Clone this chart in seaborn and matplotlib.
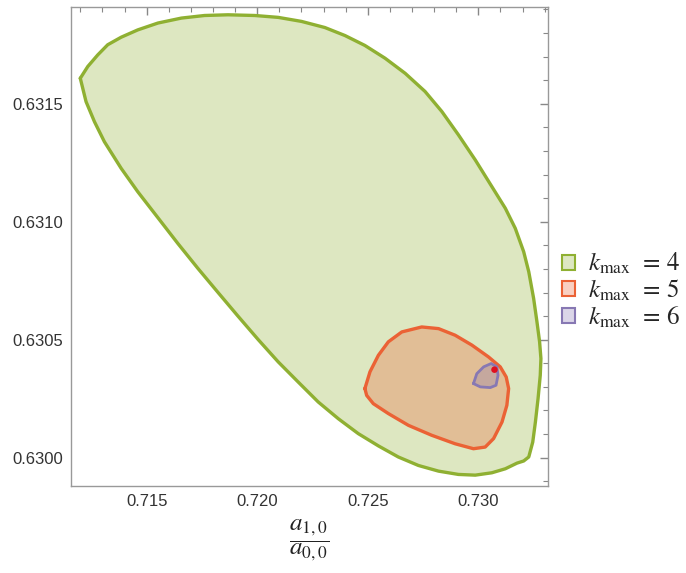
import matplotlib
matplotlib.use("Agg")
import matplotlib.pyplot as plt
import seaborn as sns
import pandas as pd
from matplotlib.ticker import MultipleLocator, FormatStrFormatter
from matplotlib.patches import Patch

# ---- data (boundaries of the allowed regions) ----
k4_x = [0.71200, 0.71234, 0.71279, 0.71324, 0.71385, 0.71460, 0.71551, 0.71657, 0.71762, 0.71868,
        0.71989, 0.72095, 0.72200, 0.72306, 0.72397, 0.72487, 0.72578, 0.72669, 0.72759, 0.72835,
        0.72910, 0.72986, 0.73061, 0.73122, 0.73167, 0.73205, 0.73228, 0.73250, 0.73265, 0.73277,
        0.73283, 0.73280, 0.73270, 0.73258, 0.73246, 0.73228, 0.73205, 0.73175, 0.73122, 0.73061,
        0.72986, 0.72910, 0.72820, 0.72729, 0.72638, 0.72548, 0.72457, 0.72367, 0.72276, 0.72185,
        0.72095, 0.72004, 0.71913, 0.71823, 0.71732, 0.71641, 0.71551, 0.71460, 0.71385, 0.71309,
        0.71264, 0.71226, 0.71211, 0.71200]
k4_y = [0.631608, 0.631658, 0.631707, 0.631750, 0.631782, 0.631813, 0.631842, 0.631863, 0.631874, 0.631877,
        0.631874, 0.631866, 0.631849, 0.631823, 0.631789, 0.631747, 0.631693, 0.631629, 0.631552, 0.631467,
        0.631368, 0.631262, 0.631149, 0.631057, 0.630972, 0.630873, 0.630788, 0.630675, 0.630576, 0.630491,
        0.630420, 0.630349, 0.630250, 0.630151, 0.630066, 0.630003, 0.629986, 0.629977, 0.629953, 0.629936,
        0.629926, 0.629929, 0.629943, 0.629967, 0.630003, 0.630050, 0.630102, 0.630165, 0.630236, 0.630321,
        0.630406, 0.630501, 0.630600, 0.630700, 0.630802, 0.630908, 0.631017, 0.631127, 0.631226, 0.631339,
        0.631424, 0.631509, 0.631566, 0.631608]

k5_x = [0.72487, 0.72510, 0.72548, 0.72593, 0.72654, 0.72744, 0.72820, 0.72895, 0.72971, 0.73046,
        0.73099, 0.73126, 0.73137, 0.73129, 0.73107, 0.73069, 0.73031, 0.72978, 0.72895, 0.72789,
        0.72684, 0.72593, 0.72525, 0.72495, 0.72487]
k5_y = [0.630293, 0.630364, 0.630434, 0.630491, 0.630533, 0.630554, 0.630547, 0.630519, 0.630477, 0.630427,
        0.630385, 0.630342, 0.630293, 0.630222, 0.630151, 0.630081, 0.630045, 0.630038, 0.630059, 0.630095,
        0.630137, 0.630187, 0.630229, 0.630264, 0.630293]

k6_x = [0.72978, 0.72993, 0.73024, 0.73058, 0.73084, 0.73089, 0.73080, 0.73054, 0.73009, 0.72978]
k6_y = [0.630314, 0.630356, 0.630385, 0.630399, 0.630385, 0.630349, 0.630307, 0.630297, 0.630300, 0.630314]

point_x = [0.73073]
point_y = [0.630373]

labels = ["4", "5", "6"]
edge_colors = ["#8FB032", "#EB6235", "#8778B3"]

# ---- figure ----
sns.set_theme(style="white")
plt.rcParams["mathtext.fontset"] = "stix"
plt.rcParams["font.family"] = ["Liberation Sans", "DejaVu Sans"]

fig = plt.figure(figsize=(6.86, 5.73), dpi=100)
ax = fig.add_axes([71 / 686, 1 - 486 / 573, (548 - 71) / 686, (486 - 7) / 573])

regions = [(k4_x, k4_y), (k5_x, k5_y), (k6_x, k6_y)]
lws = [2.4, 2.4, 2.0]
for (xs, ys), col, lw in zip(regions, edge_colors, lws):
    ax.fill(xs, ys, facecolor=col, alpha=0.3, edgecolor="none", zorder=1)
    df = pd.DataFrame({"x": xs, "y": ys})
    sns.lineplot(data=df, x="x", y="y", sort=False, estimator=None, color=col,
                 linewidth=lw, ax=ax, zorder=2)

sns.scatterplot(x=point_x, y=point_y, color="#E0101E", s=22, edgecolor="none", ax=ax, zorder=3)

ax.set_xlim(0.71158, 0.73315)
ax.set_ylim(0.62988, 0.63191)

ax.xaxis.set_major_locator(MultipleLocator(0.005))
ax.xaxis.set_minor_locator(MultipleLocator(0.001))
ax.yaxis.set_major_locator(MultipleLocator(0.0005))
ax.yaxis.set_minor_locator(MultipleLocator(0.0001))
ax.xaxis.set_major_formatter(FormatStrFormatter("%.3f"))
ax.yaxis.set_major_formatter(FormatStrFormatter("%.4f"))
ax.tick_params(which="both", direction="in", top=True, right=True, color="#888888",
               labelsize=12, labelcolor="#333333", pad=6)
ax.tick_params(which="major", length=6, width=1)
ax.tick_params(which="minor", length=3.5, width=0.8)
for s in ax.spines.values():
    s.set_color("#999999")
    s.set_linewidth(1)

ax.set_ylabel("")
ax.set_xlabel(r"$\dfrac{a_{1,0}}{a_{0,0}}$", fontsize=18, labelpad=6, color="#222222")

handles = []
for c in edge_colors:
    rgb = matplotlib.colors.to_rgb(c)
    light = tuple(0.7 + 0.3 * v for v in rgb)
    handles.append(Patch(facecolor=light, edgecolor=c, linewidth=1.5))
leg_labels = [r"$k_{\mathrm{max}}$  = " + l for l in labels]
fig.legend(handles, leg_labels, loc="center left", bbox_to_anchor=(539 / 686, 1 - 291 / 573),
           frameon=False, prop={"family": "STIXGeneral", "size": 18},
           handlelength=0.55, handleheight=0.55, handletextpad=0.5, labelspacing=0.05)

fig.savefig("out.png", dpi=100)
